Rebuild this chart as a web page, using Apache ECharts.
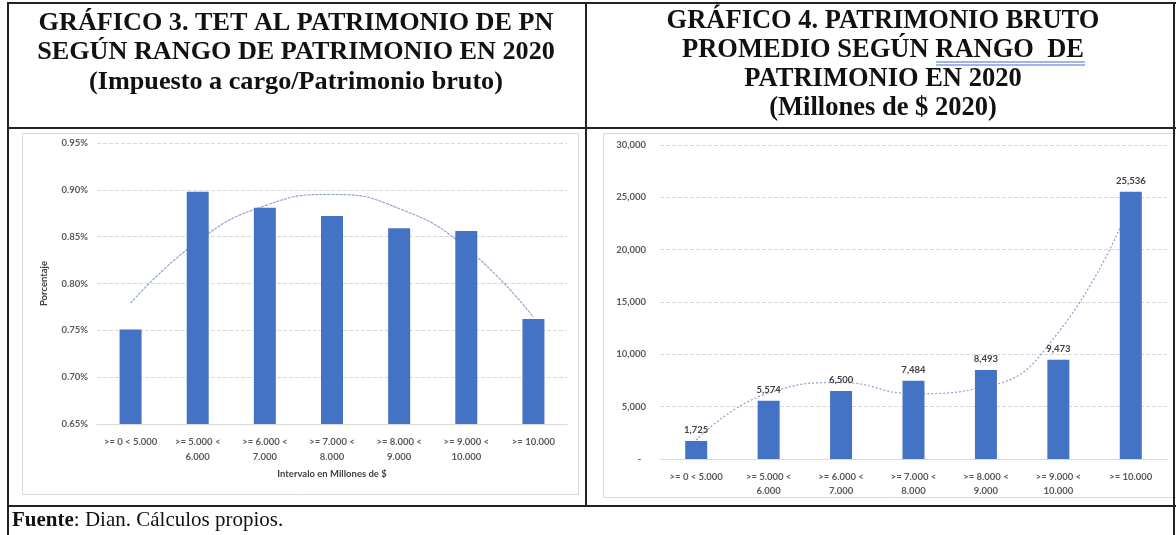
<!DOCTYPE html>
<html><head><meta charset="utf-8">
<script src="https://cdn.jsdelivr.net/npm/echarts@6/dist/echarts.min.js"></script>
<style>html,body{margin:0;padding:0;background:#fff}#c{width:1176px;height:535px}</style>
</head><body><div id="c"></div>
<script>
const categories = ['>= 0 < 5.000', '>= 5.000 <\n6.000', '>= 6.000 <\n7.000', '>= 7.000 <\n8.000', '>= 8.000 <\n9.000', '>= 9.000 <\n10.000', '>= 10.000'];
const tetValues = [0.751, 0.898, 0.881, 0.872, 0.859, 0.856, 0.762];
const tetTrend = [0.779, 0.845, 0.883, 0.895, 0.880, 0.838, 0.764];
const patrimonioValues = [1725, 5574, 6500, 7484, 8493, 9473, 25536];
const patrimonioTrend = [1800, 6300, 7300, 6250, 6900, 12100, 24500];
const leftTitle = 'GRÁFICO 3. TET AL PATRIMONIO DE PN\nSEGÚN RANGO DE PATRIMONIO EN 2020\n(Impuesto a cargo/Patrimonio bruto)';
const rightTitle = 'GRÁFICO 4. PATRIMONIO BRUTO\nPROMEDIO SEGÚN RANGO  DE\nPATRIMONIO EN 2020\n(Millones de $ 2020)';
const leftYName = 'Porcentaje';
const leftXName = 'Intervalo en Millones de $';
const footerBold = 'Fuente';
const footerRest = ': Dian. Cálculos propios.';

const chart = echarts.init(document.getElementById('c'), null, {renderer: 'canvas'});
const labelFont = {fontFamily: 'Lato', fontWeight: 'bold', fontSize: 9.5, color: '#595959'};
const gridLine = {show: true, lineStyle: {color: '#d9d9d9', type: [4, 2], width: 1}};
const borderColor = '#222';
const serif = 'Liberation Serif';

function hline(x1, x2, y, w, c) { return {type: 'line', shape: {x1, y1: y, x2, y2: y}, style: {stroke: c || borderColor, lineWidth: w || 2}, silent: true}; }
function vline(x, y1, y2, w, c) { return {type: 'line', shape: {x1: x, y1, x2: x, y2}, style: {stroke: c || borderColor, lineWidth: w || 2}, silent: true}; }

chart.setOption({
  animation: false,
  backgroundColor: '#fff',
  graphic: [
    // chart frames
    {type: 'rect', shape: {x: 22.5, y: 133.5, width: 556, height: 361}, style: {fill: 'none', stroke: '#d9d9d9', lineWidth: 1}, silent: true},
    {type: 'rect', shape: {x: 603.5, y: 133.5, width: 580, height: 364}, style: {fill: 'none', stroke: '#d9d9d9', lineWidth: 1}, silent: true},
    // table borders
    hline(7, 1176, 3), hline(7, 1176, 128), hline(7, 1176, 506),
    vline(8, 2, 535), vline(586, 2, 506), vline(1174, 2, 535),
    // titles
    {type: 'text', x: 296, y: 8, style: {text: leftTitle, fontFamily: serif, fontWeight: 'bold', fontSize: 26.2, lineHeight: 29.5, fill: '#111', align: 'center', textAlign: 'center'}, silent: true},
    {type: 'text', x: 883, y: 7, style: {text: rightTitle, fontFamily: serif, fontWeight: 'bold', fontSize: 26.5, lineHeight: 29, fill: '#111', align: 'center', textAlign: 'center'}, silent: true},
    // grammar underline under RANGO DE
    hline(936, 1085, 62, 1, '#3c6fd6'), hline(936, 1085, 65, 1, '#3c6fd6'),
    // footer
    {type: 'text', x: 12, y: 510, style: {
      text: '{b|' + footerBold + '}{r|' + footerRest + '}',
      rich: {b: {fontFamily: serif, fontWeight: 'bold', fontSize: 21, fill: '#111'}, r: {fontFamily: serif, fontSize: 21, fill: '#111'}}
    }, silent: true}
  ],
  grid: [
    {left: 97, top: 143, width: 470, height: 281, containLabel: false},
    {left: 660, top: 145, width: 507, height: 314, containLabel: false}
  ],
  xAxis: [
    {type: 'category', gridIndex: 0, data: categories,
     name: leftXName, nameLocation: 'middle', nameGap: 44, nameTextStyle: {fontFamily: 'Lato', fontWeight: 'bold', fontSize: 9.5, color: '#404040'},
     axisLine: {lineStyle: {color: '#d9d9d9'}}, axisTick: {show: false},
     axisLabel: Object.assign({margin: 10, lineHeight: 15, interval: 0}, labelFont)},
    {type: 'category', gridIndex: 1, data: categories,
     axisLine: {lineStyle: {color: '#d9d9d9'}}, axisTick: {show: false},
     axisLabel: Object.assign({margin: 11, lineHeight: 14, interval: 0}, labelFont)}
  ],
  yAxis: [
    {type: 'value', gridIndex: 0, min: 0.65, max: 0.95, interval: 0.05,
     name: leftYName, nameLocation: 'middle', nameGap: 48, nameRotate: 90,
     nameTextStyle: {fontFamily: 'Lato', fontWeight: 'bold', fontSize: 9.5, color: '#404040'},
     axisLine: {show: false}, axisTick: {show: false}, splitLine: gridLine,
     axisLabel: Object.assign({margin: 9, formatter: v => v.toFixed(2) + '%'}, labelFont)},
    {type: 'value', gridIndex: 1, min: 0, max: 30000, interval: 5000,
     axisLine: {show: false}, axisTick: {show: false}, splitLine: gridLine,
     axisLabel: Object.assign({margin: 14, formatter: v => v === 0 ? '-  ' : v.toLocaleString('en-US')}, labelFont)}
  ],
  series: [
    {type: 'line', xAxisIndex: 0, yAxisIndex: 0, data: tetTrend, smooth: true, symbol: 'none', z: 1, silent: true,
     lineStyle: {color: '#8a9fcb', width: 1.1, type: [3, 1]}},
    {type: 'bar', xAxisIndex: 0, yAxisIndex: 0, data: tetValues, barWidth: 22, z: 2,
     itemStyle: {color: '#4472c4'}},
    {type: 'line', xAxisIndex: 1, yAxisIndex: 1, data: patrimonioTrend, smooth: true, symbol: 'none', z: 1, silent: true,
     lineStyle: {color: '#8a9fcb', width: 1.2, type: [2, 2]}},
    {type: 'bar', xAxisIndex: 1, yAxisIndex: 1, data: patrimonioValues, barWidth: 22, z: 2,
     itemStyle: {color: '#4472c4'},
     label: Object.assign({show: true, position: 'top', distance: 6, formatter: p => p.value.toLocaleString('en-US')}, labelFont, {color: '#404040'})}
  ]
});
</script></body></html>
